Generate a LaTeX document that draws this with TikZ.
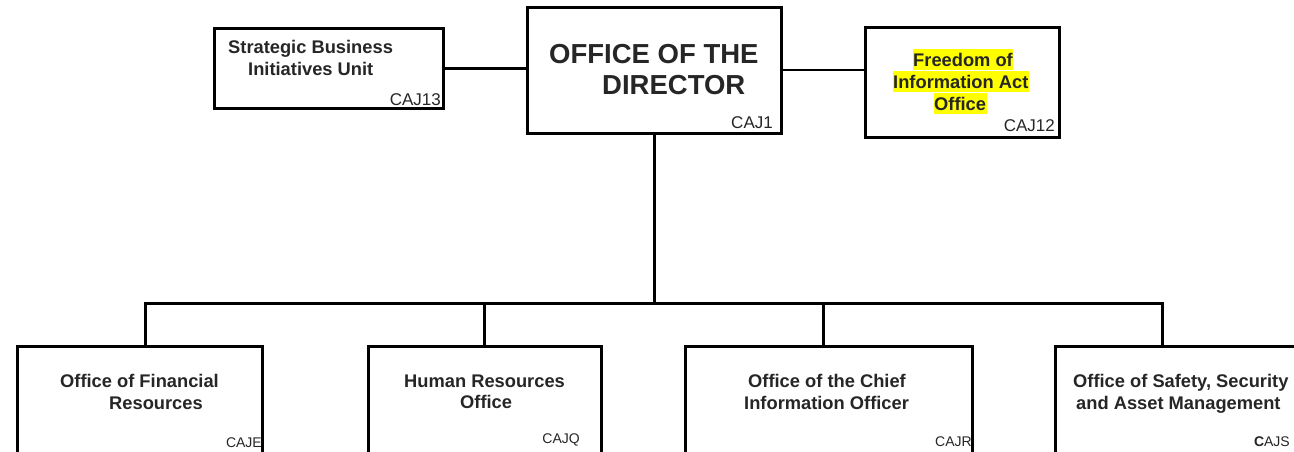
\documentclass[tikz,border=0pt]{standalone}
\usepackage{fontspec}
\setmainfont{Liberation Sans}
\usetikzlibrary{backgrounds}
\definecolor{tgray}{HTML}{262626}
\definecolor{hlyellow}{HTML}{FFFF00}
\begin{document}
\begin{tikzpicture}[x=1pt,y=-1pt,
  box/.style={draw=black,line width=3pt,inner sep=0pt,outer sep=0pt,fill=white},
  conn/.style={draw=black,line width=3pt},
  thinconn/.style={draw=black,line width=2.2pt},
  lbl/.style={font=\fontsize{18.3}{22}\selectfont\bfseries,text=tgray,inner sep=0pt,anchor=base west},
  biglbl/.style={lbl,font=\fontsize{27.5}{32}\selectfont\bfseries},
  hl/.style={lbl,fill=hlyellow,inner xsep=0.5pt,inner ysep=0pt,text height=17pt,text depth=4pt},
  code/.style={font=\fontsize{17}{20}\selectfont,text=tgray,inner sep=0pt,anchor=base east},
  scode/.style={code,font=\fontsize{14}{17}\selectfont}]
\useasboundingbox (0,0) rectangle (1294,451);
\clip (0,0) rectangle (1294,451);
% boxes
\node[box,minimum width=229pt,minimum height=80pt] (sbiu) at (328.5,68) {};
\node[box,minimum width=254pt,minimum height=126pt] (dir) at (654,70) {};
\node[box,minimum width=194pt,minimum height=110pt] (foia) at (962,82) {};
\node[box,minimum width=245pt,minimum height=124pt] (b1) at (139.5,408) {};
\node[box,minimum width=233pt,minimum height=124pt] (b2) at (484.5,408) {};
\node[box,minimum width=287pt,minimum height=124pt] (b3) at (828.5,408) {};
\node[box,minimum width=265pt,minimum height=124pt] (b4) at (1187.5,408) {};
% junction points on the tops of the lower boxes
\coordinate (t1) at ([xshift=128pt]b1.north west);
\coordinate (t2) at (b2.north);
\coordinate (t3) at ([xshift=138pt]b3.north west);
\coordinate (t4) at ([xshift=107pt]b4.north west);
\coordinate (bus) at ([yshift=-170pt]dir.south);
% connectors, behind the boxes
\begin{pgfonlayer}{background}
\draw[conn] (sbiu.east) -- (sbiu.east -| dir.west);
\draw[thinconn] (dir.east) -- (dir.east -| foia.west);
\draw[conn] (dir.south) -- (bus);
\draw[conn] (t1) |- (bus);
\draw[conn] (t4) |- (bus);
\draw[conn] (t2) -- (t2 |- bus);
\draw[conn] (t3) -- (t3 |- bus);
\end{pgfonlayer}
% labels
\node[lbl] (sbiu1) at (228,53) {Strategic Business};
\node[lbl] (sbiu2) at (248,75) {Initiatives Unit};
\node[code] (sbiuc) at (441,105) {CAJ13};
\node[biglbl] (dir1) at (549,63) {OFFICE OF THE};
\node[biglbl] (dir2) at (602,94) {DIRECTOR};
\node[code] (dirc) at (773,128) {CAJ1};
\node[hl] (foia1) at (912.5,66) {Freedom of\hspace{11pt}};
\node[hl] (foia2) at (892.5,88) {Information Act\hspace{4pt}};
\node[hl] (foia3) at (933.5,110) {Office\hspace{7pt}};
\node[code] (foiac) at (1055,131) {CAJ12};
\node[lbl] (b1l1) at (60,387) {Office of Financial};
\node[lbl] (b1l2) at (109,409) {Resources};
\node[scode] (b1c) at (262,447) {CAJE};
\node[lbl] (b2l1) at (404,387) {Human Resources};
\node[lbl] (b2l2) at (460,408) {Office};
\node[scode] (b2c) at (580,443) {CAJQ};
\node[lbl] (b3l1) at (748,387) {Office of the Chief};
\node[lbl] (b3l2) at (744,409) {Information Officer};
\node[scode] (b3c) at (972,446) {CAJR};
\node[lbl] (b4l1) at (1073,387) {Office of Safety, Security};
\node[lbl] (b4l2) at (1076,409) {and Asset Management};
\node[scode] (b4c) at (1290,446) {\textbf{C}AJS};
\end{tikzpicture}
\end{document}
